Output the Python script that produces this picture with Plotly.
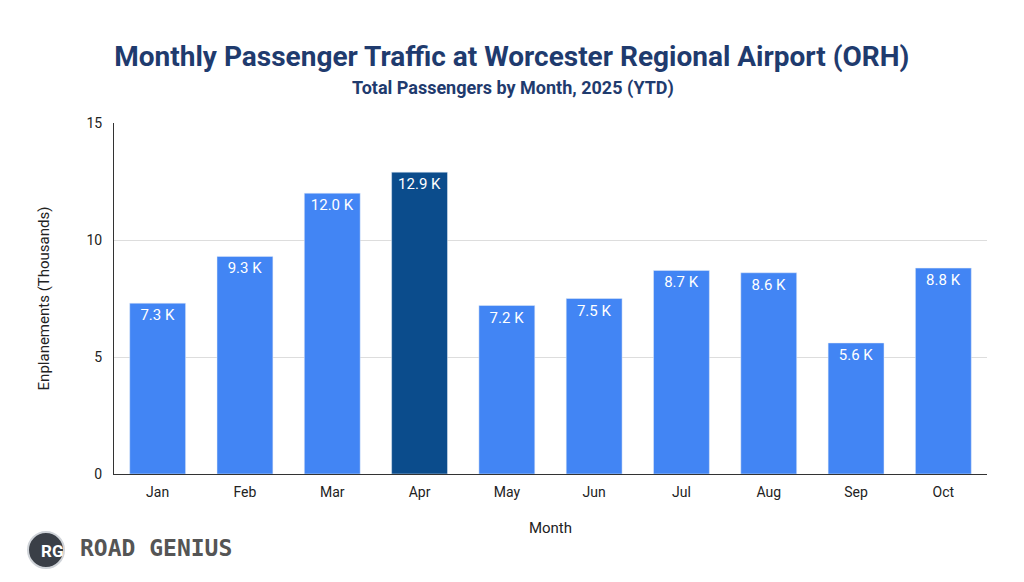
import plotly.graph_objects as go

months = ["Jan","Feb","Mar","Apr","May","Jun","Jul","Aug","Sep","Oct"]
values = [7.3, 9.3, 12.0, 12.9, 7.2, 7.5, 8.7, 8.6, 5.6, 8.8]
labels = ["7.3 K","9.3 K","12.0 K","12.9 K","7.2 K","7.5 K","8.7 K","8.6 K","5.6 K","8.8 K"]
colors = ["#4285F4"]*len(months)
colors[3] = "#0B4C8C"

fig = go.Figure(go.Bar(
    x=months, y=values, text=labels, textposition="inside", insidetextanchor="end",
    textfont=dict(color="white", size=15, family="Roboto"), marker_color=colors,
    width=0.64, cliponaxis=False,
))
fig.update_layout(
    width=1024, height=582, paper_bgcolor="white", plot_bgcolor="white",
    margin=dict(l=106, r=45, t=115, b=116),
    font=dict(family="Roboto", color="#222"),
    title=dict(text="<b>Monthly Passenger Traffic at Worcester Regional Airport (ORH)</b>",
               x=0.492, y=0.9175, yref="container", xanchor="center", yanchor="middle",
               font=dict(size=28, color="#1F3B6E", family="Roboto")),
    xaxis=dict(title=dict(text="Month", font=dict(size=15), standoff=23), tickfont=dict(size=14),
               showline=True, linecolor="#333", ticks="", ticklabelstandoff=5),
    yaxis=dict(title=dict(text="Enplanements (Thousands)", font=dict(size=15), standoff=33),
               range=[0, 15], tickvals=[0, 5, 10, 15], tickfont=dict(size=14), ticklabelstandoff=8,
               gridcolor="#dddddd", showline=True, linecolor="#333", zeroline=False),
    showlegend=False,
)
fig.add_annotation(xref="paper", yref="paper", x=0.457, y=1.0997, yanchor="middle",
                   text="<b>Total Passengers by Month, 2025 (YTD)</b>", showarrow=False,
                   font=dict(size=18, color="#1F3B6E"))
fig.add_shape(type="circle", xref="paper", yref="paper", x0=-0.0985, x1=-0.0573, y0=-0.268, y1=-0.165,
              fillcolor="#3a3f47", line=dict(color="#cfd3d8", width=2))
fig.add_annotation(xref="paper", yref="paper", x=-0.086, y=-0.2535, text="<b>RG</b>", showarrow=False,
                   font=dict(color="white", size=17))
fig.add_annotation(xref="paper", yref="paper", x=-0.041, y=-0.2535, xanchor="left", text="<b>ROAD GENIUS</b>",
                   showarrow=False, font=dict(color="#555", size=23, family="DejaVu Sans Mono"))
fig.write_html("out.html")
